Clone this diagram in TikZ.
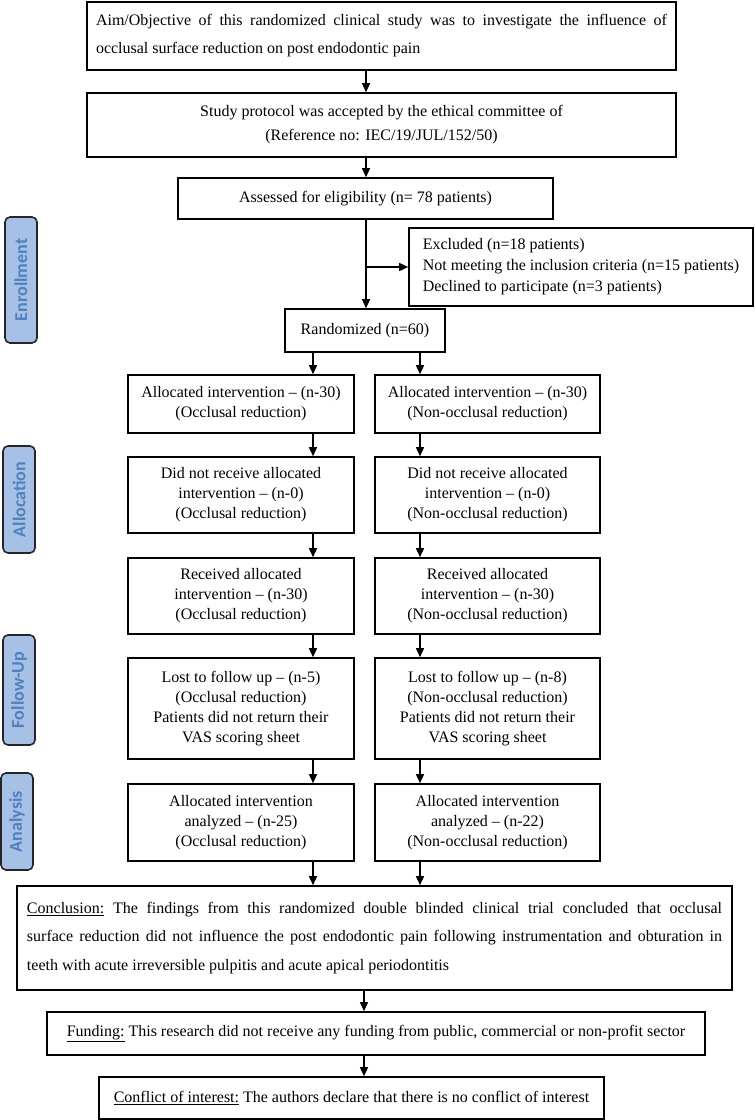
\documentclass[tikz,border=0pt]{standalone}
\usepackage{fontspec}
\setmainfont{Liberation Serif}
\newfontfamily\phasefont{Carlito}
\usetikzlibrary{arrows.meta}
\definecolor{lblfill}{RGB}{167,192,229}
\definecolor{lbltext}{RGB}{79,129,189}
\tikzset{
  box/.style={draw, line width=1.6pt, inner sep=0pt, align=center, font=\fontsize{16}{20}\selectfont},
  arr/.style={-{Triangle[length=9pt,width=8pt]}, line width=1.5pt},
  phase/.style={draw=black!85, line width=1.6pt, rounded corners=5pt, fill=lblfill, text=lbltext,
    font=\phasefont\bfseries\fontsize{18}{20}\selectfont, rotate=90, minimum height=32pt, inner sep=0pt},
}
\begin{document}
\begin{tikzpicture}[x=1pt,y=-1pt]
\useasboundingbox (0,0) rectangle (755,1120);
\coordinate (sp) at (366,0);
\coordinate (cl) at (313,0);
\coordinate (cr) at (420,0);
\coordinate (cb) at (364,0);

% phase labels
\node[phase, minimum width=126pt] (enr) at (21,280) {Enrollment};
\node[phase, minimum width=107pt] (all) at (19,499.5) {Allocation};
\node[phase, minimum width=110pt] (fol) at (19,690) {Follow-Up};
\node[phase, minimum width=97pt] (ana) at (17,821.5) {Analysis};

% top boxes
\node[box, minimum width=589pt, minimum height=68pt, text width=571pt, align=justify,
  font=\fontsize{16}{28}\selectfont] (aim) at (381.5,36)
  {Aim/Objective of this randomized clinical study was to investigate the influence of\linebreak occlusal surface reduction on post endodontic pain};
\node[box, minimum width=589pt, minimum height=64pt, font=\fontsize{16}{24}\selectfont] (study) at (381.5,125)
  {Study protocol was accepted by the ethical committee of\\(Reference no: IEC/19/JUL/152/50)};
\node[box, minimum width=375pt, minimum height=41pt] (assess) at (365.5,198.5)
  {Assessed for eligibility (n= 78 patients)};
\node[box, minimum width=344pt, minimum height=78pt, align=left, font=\fontsize{16}{21}\selectfont] (excl) at (581,267)
  {Excluded (n=18 patients)\\Not meeting the inclusion criteria (n=15 patients)\\Declined to participate (n=3 patients)};
\node[box, minimum width=160pt, minimum height=43pt] (rand) at (365,330.5) {Randomized (n=60)};

% left column
\node[box, minimum width=226pt, minimum height=58pt] (allocL) at (241,404)
  {Allocated intervention -- (n-30)\\(Occlusal reduction)};
\node[box, minimum width=226pt, minimum height=76pt] (notL) at (241,495)
  {Did not receive allocated\\intervention -- (n-0)\\(Occlusal reduction)};
\node[box, minimum width=226pt, minimum height=76pt] (recL) at (241,596)
  {Received allocated\\intervention -- (n-30)\\(Occlusal reduction)};
\node[box, minimum width=226pt, minimum height=101pt] (lostL) at (241,708.5)
  {Lost to follow up -- (n-5)\\(Occlusal reduction)\\Patients did not return their\\VAS scoring sheet};
\node[box, minimum width=226pt, minimum height=77pt] (anaL) at (241,822.5)
  {Allocated intervention\\analyzed -- (n-25)\\(Occlusal reduction)};

% right column
\node[box, minimum width=225pt, minimum height=58pt] (allocR) at (487.5,404)
  {Allocated intervention -- (n-30)\\(Non-occlusal reduction)};
\node[box, minimum width=225pt, minimum height=76pt] (notR) at (487.5,495)
  {Did not receive allocated\\intervention -- (n-0)\\(Non-occlusal reduction)};
\node[box, minimum width=225pt, minimum height=76pt] (recR) at (487.5,596)
  {Received allocated\\intervention -- (n-30)\\(Non-occlusal reduction)};
\node[box, minimum width=225pt, minimum height=101pt] (lostR) at (487.5,708.5)
  {Lost to follow up -- (n-8)\\(Non-occlusal reduction)\\Patients did not return their\\VAS scoring sheet};
\node[box, minimum width=225pt, minimum height=77pt] (anaR) at (487.5,822.5)
  {Allocated intervention\\analyzed -- (n-22)\\(Non-occlusal reduction)};

% bottom boxes
\node[box, minimum width=715pt, minimum height=104pt, text width=695pt, align=justify,
  font=\fontsize{16}{28.5}\selectfont] (concl) at (374.5,938)
  {\underline{Conclusion:} The findings from this randomized double blinded clinical trial concluded that occlusal\linebreak surface reduction did not influence the post endodontic pain following instrumentation and obturation in\linebreak teeth with acute irreversible pulpitis and acute apical periodontitis};
\node[box, minimum width=658pt, minimum height=43pt] (fund) at (376,1033.5)
  {\underline{Funding:} This research did not receive any funding from public, commercial or non-profit sector};
\node[box, minimum width=505pt, minimum height=42pt] (coi) at (351.5,1098)
  {\underline{Conflict of interest:} The authors declare that there is no conflict of interest};

% connectors
\draw[arr] (aim.south -| sp) -- (study.north -| sp);
\draw[arr] (study.south -| sp) -- (assess.north -| sp);
\draw[arr] (assess.south -| sp) -- (rand.north -| sp);
\draw[arr] (sp |- excl.west) -- (excl.west);
\draw[arr] (rand.south -| cl) -- (allocL.north -| cl);
\draw[arr] (rand.south -| cr) -- (allocR.north -| cr);
\draw[arr] (allocL.south -| cl) -- (notL.north -| cl);
\draw[arr] (allocR.south -| cr) -- (notR.north -| cr);
\draw[arr] (notL.south -| cl) -- (recL.north -| cl);
\draw[arr] (notR.south -| cr) -- (recR.north -| cr);
\draw[arr] (recL.south -| cl) -- (lostL.north -| cl);
\draw[arr] (recR.south -| cr) -- (lostR.north -| cr);
\draw[arr] (lostL.south -| cl) -- (anaL.north -| cl);
\draw[arr] (lostR.south -| cr) -- (anaR.north -| cr);
\draw[arr] (anaL.south -| cl) -- (concl.north -| cl);
\draw[arr] (anaR.south -| cr) -- (concl.north -| cr);
\draw[arr] (concl.south -| cb) -- (fund.north -| cb);
\draw[arr] (fund.south -| cb) -- (coi.north -| cb);
\end{tikzpicture}
\end{document}
